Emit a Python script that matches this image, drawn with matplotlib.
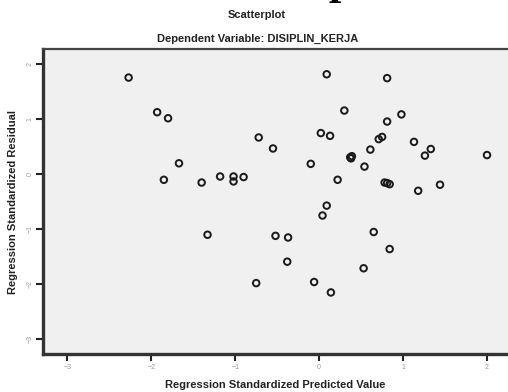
import matplotlib
matplotlib.use('Agg')
import matplotlib.pyplot as plt

# regression standardized predicted value (x) and residual (y)
pred = [-2.27, -1.93, -1.80, -1.67, -1.85, -1.40, -1.18, -1.02, -1.02, -0.90,
        -1.33, -0.72, 0.09, 0.81, 0.30, 0.98, 0.81, -0.55, 0.02, 0.13,
        0.75, 0.71, 0.61, 1.13, 1.33, 1.26, 2.00, 0.37, 0.39, 0.38,
        -0.10, 0.54, 0.22, 0.78, 0.81, 0.84, 1.18, 1.44, 0.09, 0.04,
        0.65, -0.52, -0.37, 0.84, -0.38, 0.53, -0.75, -0.06, 0.14]
resid = [1.76, 1.13, 1.02, 0.20, -0.10, -0.15, -0.04, -0.04, -0.13, -0.05,
         -1.10, 0.67, 1.82, 1.75, 1.16, 1.09, 0.96, 0.47, 0.75, 0.70,
         0.68, 0.64, 0.45, 0.59, 0.46, 0.34, 0.35, 0.31, 0.33, 0.29,
         0.19, 0.14, -0.10, -0.15, -0.16, -0.18, -0.30, -0.19, -0.57, -0.75,
         -1.05, -1.12, -1.15, -1.36, -1.59, -1.71, -1.98, -1.96, -2.15]
xticks = [-3, -2, -1, 0, 1, 2]
yticks = [-3, -2, -1, 0, 1, 2]

plt.rcParams['font.family'] = ['Liberation Sans', 'DejaVu Sans']

W, H = 508, 392
fig = plt.figure(figsize=(W / 100, H / 100), dpi=100)
ax = fig.add_axes([43 / W, 1 - 354 / H, 1 - 43 / W, (354 - 49) / H])
ax.set_facecolor('#f0f0f0')

ax.scatter(pred, resid, s=22, facecolors='none', edgecolors='#1a1a1a', linewidths=1.4, zorder=3)

ax.set_xlim(-3.29, 2.25)
ax.set_ylim(-3.27, 2.28)
ax.set_xticks(xticks)
ax.set_yticks(yticks)
ax.tick_params(direction='out', length=5, width=1.5, color='#222222',
               labelsize=5, labelcolor='#999999', pad=2)
for lab in ax.get_yticklabels():
    lab.set_rotation(90)
    lab.set_va('center')

for side in ['left', 'bottom']:
    ax.spines[side].set_linewidth(2.4)
    ax.spines[side].set_color('#333333')
ax.spines['top'].set_linewidth(1.6)
ax.spines['top'].set_color('#444444')
ax.spines['right'].set_visible(False)

ax.set_xlabel('Regression Standardized Predicted Value', fontsize=8, fontweight='bold',
              color='#222222', labelpad=7)
ax.set_ylabel('Regression Standardized Residual', fontsize=8, fontweight='bold',
              color='#222222', labelpad=6)

fig.text(257 / W, 1 - 15 / H, 'Scatterplot', ha='center', va='center',
         fontsize=8, fontweight='bold', color='#222222')
fig.text(258 / W, 1 - 39 / H, 'Dependent Variable: DISIPLIN_KERJA', ha='center',
         va='center', fontsize=8, fontweight='bold', color='#222222')
# big heading from the page above, cut off by the crop (only the p tail shows)
fig.text(194 / W, 1 + 6 / H, 'Scatterplot', ha='left', va='baseline',
         fontsize=32, fontweight='bold', family='Liberation Serif', color='black')

fig.savefig('out.png', dpi=100)
